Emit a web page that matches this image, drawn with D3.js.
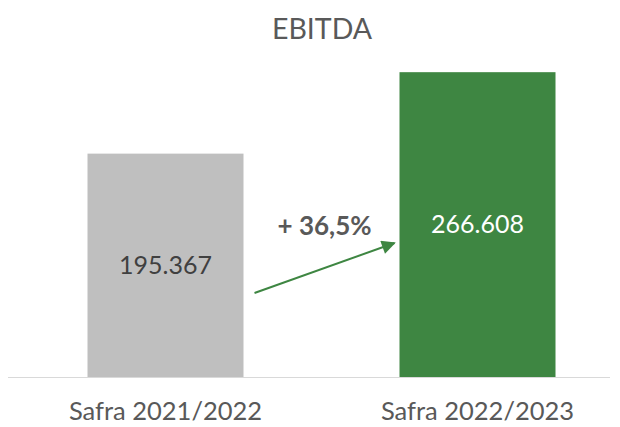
<!DOCTYPE html>
<html>
<head>
<meta charset="utf-8">
<script src="https://cdn.jsdelivr.net/npm/d3@7"></script>
<style>
  body { margin: 0; background: #fff; }
  text { font-family: Lato, "Open Sans", sans-serif; }
</style>
</head>
<body>
<div id="chart"></div>
<script>
const categories = ["Safra 2021/2022", "Safra 2022/2023"];
const values = [195367, 266608];
const valueLabels = ["195.367", "266.608"];
const barColors = ["#bfbfbf", "#3e8642"];
const labelColors = ["#404040", "#ffffff"];
const growthLabel = "+ 36,5%";

const width = 620, height = 427;

const svg = d3.select("#chart")
  .append("svg")
  .attr("width", width)
  .attr("height", height);

// x: two wide bars, y: linear from zero
const x = d3.scaleBand()
  .domain(categories)
  .range([9.5, 633.5])
  .paddingInner(0.5)
  .paddingOuter(0.25);

const y = d3.scaleLinear()
  .domain([0, 300000])
  .range([377, 34]);

// title
svg.append("text")
  .attr("x", 322)
  .attr("y", 39)
  .attr("text-anchor", "middle")
  .attr("fill", "#595959")
  .style("font-size", "28.5px")
  .text("EBITDA");

// bars
svg.selectAll(".bar")
  .data(categories)
  .join("rect")
  .attr("class", "bar")
  .attr("x", d => x(d))
  .attr("width", x.bandwidth())
  .attr("y", (d, i) => y(values[i]))
  .attr("height", (d, i) => y(0) - y(values[i]))
  .attr("fill", (d, i) => barColors[i]);

// baseline
svg.append("line")
  .attr("x1", 8).attr("x2", 610)
  .attr("y1", y(0) + 0.5).attr("y2", y(0) + 0.5)
  .attr("stroke", "#d9d9d9")
  .attr("stroke-width", 1);

// value labels centred in bars
svg.selectAll(".vlabel")
  .data(categories)
  .join("text")
  .attr("class", "vlabel")
  .attr("x", d => x(d) + x.bandwidth() / 2)
  .attr("y", (d, i) => (y(values[i]) + y(0)) / 2)
  .attr("dy", "0.35em")
  .attr("text-anchor", "middle")
  .attr("fill", (d, i) => labelColors[i])
  .style("font-size", "25px")
  .text((d, i) => valueLabels[i]);

// category labels
svg.selectAll(".clabel")
  .data(categories)
  .join("text")
  .attr("class", "clabel")
  .attr("x", d => x(d) + x.bandwidth() / 2)
  .attr("y", 420)
  .attr("text-anchor", "middle")
  .attr("fill", "#595959")
  .style("font-size", "25.5px")
  .text(d => d);

// growth arrow
const defs = svg.append("defs");
defs.append("marker")
  .attr("id", "arrowhead")
  .attr("viewBox", "0 0 10 10")
  .attr("refX", 9)
  .attr("refY", 5)
  .attr("markerWidth", 8)
  .attr("markerHeight", 7)
  .attr("markerUnits", "strokeWidth")
  .attr("orient", "auto")
  .append("path")
  .attr("d", "M0,0 L10,5 L0,10 Z")
  .attr("fill", "#3e8642");

const ax1 = x(categories[0]) + x.bandwidth() + 11;
const ax2 = x(categories[1]) - 5;
svg.append("line")
  .attr("x1", ax1).attr("y1", y(0) - 84)
  .attr("x2", ax2).attr("y2", y(0) - 134)
  .attr("stroke", "#3e8642")
  .attr("stroke-width", 2)
  .attr("marker-end", "url(#arrowhead)");

svg.append("text")
  .attr("x", (ax1 + ax2) / 2)
  .attr("y", 235)
  .attr("text-anchor", "middle")
  .attr("fill", "#595959")
  .style("font-size", "26px")
  .style("font-weight", "bold")
  .text(growthLabel);
</script>
</body>
</html>
